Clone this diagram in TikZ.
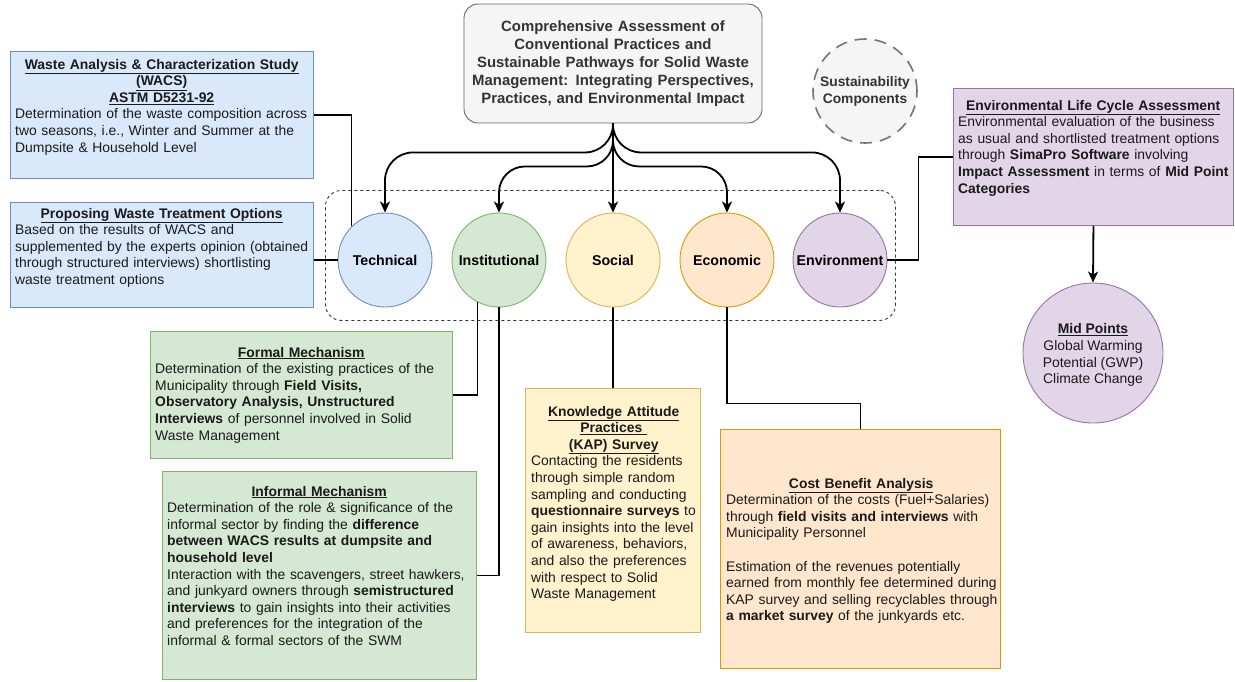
\documentclass[tikz,border=0pt]{standalone}
\usepackage{fontspec}
\setmainfont{Liberation Sans}
\usetikzlibrary{arrows.meta,calc}
\definecolor{bluefill}{HTML}{DAE8FC}\definecolor{bluedraw}{HTML}{6C8EBF}
\definecolor{greenfill}{HTML}{D5E8D4}\definecolor{greendraw}{HTML}{82B366}
\definecolor{yellowfill}{HTML}{FFF2CC}\definecolor{yellowdraw}{HTML}{D6B656}
\definecolor{orangefill}{HTML}{FFE6CC}\definecolor{orangedraw}{HTML}{D79B00}
\definecolor{purplefill}{HTML}{E1D5E7}\definecolor{purpledraw}{HTML}{9673A6}
\definecolor{grayfill}{HTML}{F5F5F5}\definecolor{graydraw}{HTML}{666666}
\definecolor{darktext}{HTML}{333333}
\definecolor{bodytext}{HTML}{1A1A1A}
\newcommand\bodysize{\fontsize{13.9}{16.6}\selectfont}
\newcommand\hd[1]{\underline{\textbf{#1}}}
\newcommand\ttl[1]{\makebox[\dimexpr\linewidth-10pt\relax]{\hd{#1}}}
\begin{document}
\begin{tikzpicture}[x=1pt,y=-1pt,
  boxbase/.style={draw, line width=0.9pt, rectangle, inner sep=0pt, anchor=north west},
  bluebox/.style={boxbase, fill=bluefill, draw=bluedraw},
  greenbox/.style={boxbase, fill=greenfill, draw=greendraw},
  yellowbox/.style={boxbase, fill=yellowfill, draw=yellowdraw},
  orangebox/.style={boxbase, fill=orangefill, draw=orangedraw},
  purplebox/.style={boxbase, fill=purplefill, draw=purpledraw},
  txt/.style={inner sep=0pt, anchor=base west, align=left, font=\bodysize, text=bodytext},
  comp/.style={circle, draw, line width=0.9pt, minimum size=94pt, inner sep=0pt, font=\fontsize{14.2}{16}\selectfont\bfseries, text=black},
  conn/.style={line width=1.8pt, black},
  arr/.style={conn, -{Stealth[length=11pt,width=10pt,inset=3pt]}},
]
\useasboundingbox (0,0) rectangle (1235,681);

% group frame
\node[draw=black!80, line width=0.9pt, dash pattern=on 3pt off 3pt, rounded corners=16pt,
      minimum width=570pt, minimum height=130pt, inner sep=0pt, anchor=north west] (group) at (325,190) {};

% title
\node[draw=graydraw, fill=grayfill, line width=0.9pt, rounded corners=14pt, minimum width=298pt,
      minimum height=119pt, inner sep=0pt] (title) at (613,63.5) {};
\node[inner sep=0pt, anchor=base, align=center, text width=290pt, text=darktext,
      font=\fontsize{14.9}{18}\selectfont\bfseries] (titleT) at ($(title.north)+(0,28)$)
 {Comprehensive Assessment of\\Conventional Practices and\\Sustainable Pathways for Solid Waste\\Management: Integrating Perspectives,\\Practices, and Environmental Impact};

% sustainability components
\node[circle, fill=grayfill, draw=graydraw!90, line width=1.6pt, dash pattern=on 12pt off 8pt,
      minimum size=104pt, inner sep=0pt, align=center, text=darktext,
      font=\fontsize{13.8}{17}\selectfont\bfseries] (sust) at (865,91) {Sustainability\\Components};

% component circles
\node[comp, fill=bluefill, draw=bluedraw] (tech) at (385,260) {Technical};
\node[comp, fill=greenfill, draw=greendraw] (inst) at (499,260) {Institutional};
\node[comp, fill=yellowfill, draw=yellowdraw] (soc) at (613,260) {Social};
\node[comp, fill=orangefill, draw=orangedraw] (eco) at (727,260) {Economic};
\node[comp, fill=purplefill, draw=purpledraw] (env) at (840,260) {Environment};

% WACS
\node[bluebox, minimum width=303pt, minimum height=127pt] (wacs) at (10,51) {};
\node[txt, text width=303pt] (wacsT) at ($(wacs.north west)+(5,18)$)
 {\ttl{Waste Analysis \& Characterization Study}\\\ttl{(WACS)}\\\ttl{ASTM D5231-92}\\
  Determination of the waste composition across\\two seasons, i.e., Winter and Summer at the\\Dumpsite \& Household Level};

% Proposing
\node[bluebox, minimum width=303pt, minimum height=105pt] (prop) at (10,202) {};
\node[txt, text width=303pt] (propT) at ($(prop.north west)+(5,16)$)
 {\ttl{Proposing Waste Treatment Options}\\
  Based on the results of WACS and\\supplemented by the experts opinion (obtained\\through structured interviews) shortlisting\\waste treatment options};

% LCA
\node[purplebox, minimum width=280pt, minimum height=137pt] (lca) at (953,88) {};
\node[txt, text width=280pt] (lcaT) at ($(lca.north west)+(5,22)$)
 {\ttl{Environmental Life Cycle Assessment}\\
  Environmental evaluation of the business\\as usual and shortlisted treatment options\\through \textbf{SimaPro Software} involving\\\textbf{Impact Assessment} in terms of \textbf{Mid Point}\\\textbf{Categories}};

% Mid points
\node[circle, fill=purplefill, draw=purpledraw, line width=0.9pt, minimum size=140pt, inner sep=0pt] (mid) at (1093,353) {};
\node[inner sep=0pt, align=center, font=\fontsize{13.9}{16.8}\selectfont, text=bodytext] (midT)
 at ($(mid.center)+(0,2)$) {\hd{Mid Points}\\Global Warming\\Potential (GWP)\\Climate Change};

% Formal
\node[greenbox, minimum width=302pt, minimum height=127pt] (formal) at (150,331) {};
\node[txt, text width=302pt] (formalT) at ($(formal.north west)+(5,26)$)
 {\ttl{Formal Mechanism}\\
  Determination of the existing practices of the\\Municipality through \textbf{Field Visits,}\\\textbf{Observatory Analysis, Unstructured}\\\textbf{Interviews} of personnel involved in Solid\\Waste Management};

% Informal
\node[greenbox, minimum width=314pt, minimum height=208pt] (informal) at (162,471) {};
\node[txt, text width=314pt] (informalT) at ($(informal.north west)+(5,25)$)
 {\ttl{Informal Mechanism}\\
  Determination of the role \& significance of the\\informal sector by finding the \textbf{difference}\\\textbf{between WACS results at dumpsite and}\\\textbf{household level}\\Interaction with the scavengers, street hawkers,\\and junkyard owners through \textbf{semistructured}\\\textbf{interviews} to gain insights into their activities\\and preferences for the integration of the\\informal \& formal sectors of the SWM};

% KAP
\node[yellowbox, minimum width=175pt, minimum height=244pt] (kap) at (525,388) {};
\node[txt, text width=175pt] (kapT) at ($(kap.north west)+(6,28)$)
 {\ttl{Knowledge Attitude}\\\ttl{Practices }\\\ttl{(KAP) Survey}\\
  Contacting the residents\\through simple random\\sampling and conducting\\\textbf{questionnaire surveys} to\\gain insights into the level\\of awareness, behaviors,\\and also the preferences\\with respect to Solid\\Waste Management};

% CBA
\node[orangebox, minimum width=280pt, minimum height=239pt] (cba) at (720,429) {};
\node[txt, text width=280pt] (cbaT) at ($(cba.north west)+(6,59)$)
 {\ttl{Cost Benefit Analysis}\\
  Determination of the costs (Fuel+Salaries)\\through \textbf{field visits and interviews} with\\Municipality Personnel\\[16.6pt]
  Estimation of the revenues potentially\\earned from monthly fee determined during\\KAP survey and selling recyclables through\\\textbf{a market survey} of the junkyards etc.};

% arrows from title
\draw[arr, rounded corners=28pt] (title.south) -- ++(0,29) -| (tech.north);
\draw[arr, rounded corners=26pt] (title.south) -- ++(0,43) -| (inst.north);
\draw[arr] (title.south) -- (soc.north);
\draw[arr, rounded corners=26pt] (title.south) -- ++(0,43) -| (eco.north);
\draw[arr, rounded corners=28pt] (title.south) -- ++(0,29) -| (env.north);

% connectors
\draw[conn] (wacs.east) -| (tech.135);
\draw[conn] (prop.east |- tech.west) -- (tech.west);
\draw[conn] (env.east) -- ++(31,0) |- (lca.west);
\draw[arr] (lca.south) -- (mid.north);
\draw[conn] (formal.east) -| (inst.243);
\draw[conn] (informal.east) -| (inst.south);
\draw[conn] (soc.south) -- (kap.north);
\draw[conn] (eco.south) -- ++(0,96) -| (cba.north);
\end{tikzpicture}
\end{document}
